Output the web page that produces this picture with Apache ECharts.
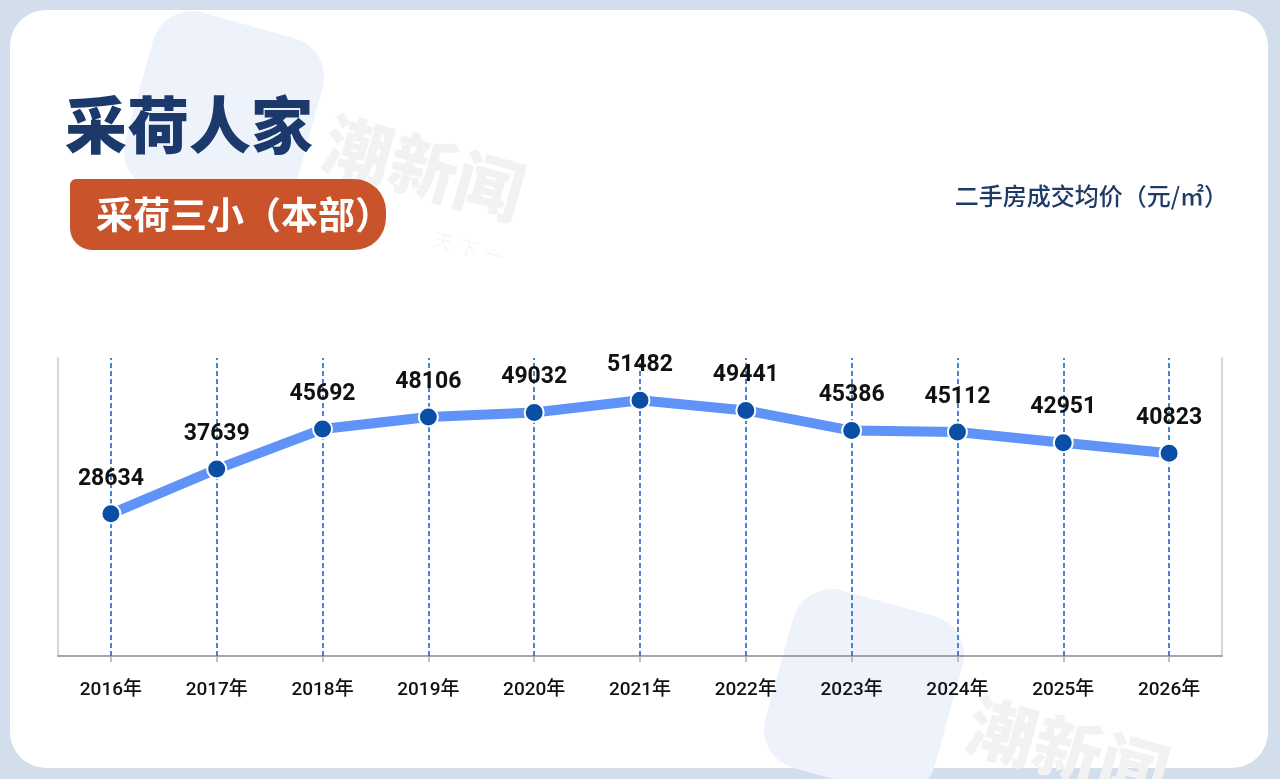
<!DOCTYPE html>
<html>
<head>
<meta charset="utf-8">
<script src="https://cdn.jsdelivr.net/npm/echarts@6/dist/echarts.min.js"></script>
<style>
html,body{margin:0;padding:0;background:#d3deed;}
#c{width:1280px;height:779px;}
</style>
</head>
<body>
<div id="c"></div>
<script>
var years = ['2016年','2017年','2018年','2019年','2020年','2021年','2022年','2023年','2024年','2025年','2026年'];
var prices = [28634, 37639, 45692, 48106, 49032, 51482, 49441, 45386, 45112, 42951, 40823];
var titleText = '采荷人家';
var badgeText = '采荷三小（本部）';
var unitText = '二手房成交均价（元/㎡）';

var chart = echarts.init(document.getElementById('c'), null, {renderer: 'canvas'});
var CJK = '"Noto Sans CJK SC", sans-serif';
var NUM = 'Roboto, "Noto Sans CJK SC", sans-serif';

chart.setOption({
  backgroundColor: '#d3deed',
  animation: false,
  graphic: [
    {type: 'rect', z: -10, shape: {x: 10, y: 10, width: 1258, height: 758, r: 36}, style: {fill: '#ffffff'}},
    // watermark top
    {type: 'rect', z: -9, x: 224, y: 114, rotation: -0.27, shape: {x: -88, y: -92, width: 176, height: 184, r: 40}, style: {fill: '#eef3fb'}},
    {type: 'text', z: -9, x: 424, y: 168, rotation: -0.27, style: {text: '潮新闻', fill: '#f2f2f2', font: '900 68px ' + CJK, align: 'center', verticalAlign: 'middle'}},
    {type: 'text', z: -9, x: 468, y: 248, rotation: -0.27, style: {text: '天  下  一', fill: '#f1f1f1', font: '300 18px ' + CJK, align: 'center', verticalAlign: 'middle'}},
    // watermark bottom
    {type: 'rect', z: -9, x: 864, y: 692, rotation: -0.27, shape: {x: -88, y: -92, width: 176, height: 184, r: 40}, style: {fill: '#eef3fb'}},
    {type: 'text', z: -9, x: 1068, y: 750, rotation: -0.27, style: {text: '潮新闻', fill: '#f2f2f2', font: '900 68px ' + CJK, align: 'center', verticalAlign: 'middle'}},
    // title
    {type: 'text', z: 10, x: 65, y: 125, style: {text: titleText, fill: '#1b3a6b', font: '900 62px ' + CJK, align: 'left', verticalAlign: 'middle'}},
    // badge
    {type: 'rect', z: 10, shape: {x: 70, y: 179, width: 316, height: 71, r: [6, 32, 32, 22]}, style: {fill: '#c9542c'}},
    {type: 'text', z: 11, x: 96, y: 215, style: {text: badgeText, fill: '#ffffff', font: '700 37px ' + CJK, align: 'left', verticalAlign: 'middle'}},
    // unit
    {type: 'text', z: 10, x: 1228, y: 196, style: {text: unitText, fill: '#1e3a66', font: '500 24px ' + CJK, align: 'right', verticalAlign: 'middle'}}
  ],
  grid: {left: 58, right: 58, top: 358, bottom: 123, containLabel: false},
  xAxis: [
    {
      type: 'category', data: years, boundaryGap: true, position: 'bottom',
      axisLine: {show: true, lineStyle: {color: '#8a8a8a', width: 1.5}},
      axisTick: {show: true, alignWithLabel: true, length: 6, lineStyle: {color: '#b0b0b0', width: 1.5}},
      axisLabel: {color: '#111111', fontSize: 19, fontWeight: 500, fontFamily: NUM, margin: 25},
      splitLine: {show: false}
    },
    {
      type: 'category', data: years, boundaryGap: true, position: 'bottom',
      axisLine: {show: false},
      axisTick: {show: true, alignWithLabel: true, inside: true, length: 298, lineStyle: {color: '#1a68cc', width: 1.6, type: [5, 3]}},
      axisLabel: {show: false},
      splitLine: {show: false}
    }
  ],
  yAxis: [
    {
      type: 'value', min: 0, max: 60000, position: 'left',
      axisLine: {show: true, lineStyle: {color: '#d6d6d6', width: 2}},
      axisTick: {show: false}, axisLabel: {show: false}, splitLine: {show: false}
    },
    {
      type: 'value', min: 0, max: 60000, position: 'right',
      axisLine: {show: true, lineStyle: {color: '#d6d6d6', width: 2}},
      axisTick: {show: false}, axisLabel: {show: false}, splitLine: {show: false}
    }
  ],
  series: [{
    type: 'line',
    data: prices,
    xAxisIndex: 0, yAxisIndex: 0,
    symbol: 'circle', symbolSize: 19,
    showAllSymbol: true,
    lineStyle: {color: '#5f93f7', width: 10},
    itemStyle: {color: '#0a4ea6', borderColor: '#ffffff', borderWidth: 2},
    label: {show: true, position: 'top', distance: 13, color: '#111111', fontSize: 23, fontWeight: 'bold', fontFamily: NUM},
    z: 5
  }]
});
</script>
</body>
</html>
